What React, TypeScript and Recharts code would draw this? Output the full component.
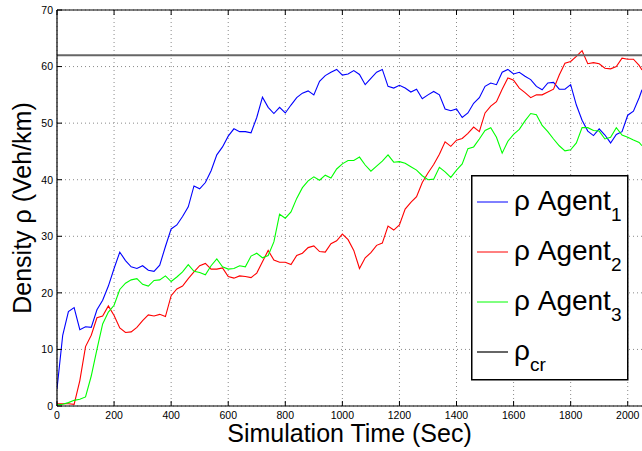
import { CartesianGrid, Legend, Line, LineChart, ReferenceLine, XAxis, YAxis } from "recharts";

// sample times (s)
const TIMES = [
  0, 20, 40, 60, 80, 100, 120, 140, 160, 180,
  200, 220, 240, 260, 280, 300, 320, 340, 360, 380,
  400, 420, 440, 460, 480, 500, 520, 540, 560, 580,
  600, 620, 640, 660, 680, 700, 720, 740, 760, 780,
  800, 820, 840, 860, 880, 900, 920, 940, 960, 980,
  1000, 1020, 1040, 1060, 1080, 1100, 1120, 1140, 1160, 1180,
  1200, 1220, 1240, 1260, 1280, 1300, 1320, 1340, 1360, 1380,
  1400, 1420, 1440, 1460, 1480, 1500, 1520, 1540, 1560, 1580,
  1600, 1620, 1640, 1660, 1680, 1700, 1720, 1740, 1760, 1780,
  1800, 1820, 1840, 1860, 1880, 1900, 1920, 1940, 1960, 1980,
  2000, 2020, 2040, 2050,
];

const AGENT_1 = [
  3, 12.5, 16.7, 17.4, 13.5, 14.0, 13.9, 17.0, 18.7, 21.2,
  24.3, 27.2, 25.7, 24.6, 24.3, 24.8, 24.0, 23.8, 24.9, 28.2,
  31.3, 32.0, 33.5, 35.2, 38.9, 38.4, 39.5, 41.6, 44.4, 45.8,
  47.7, 49.0, 48.5, 48.5, 48.3, 51.0, 54.6, 52.8, 51.7, 52.8,
  51.8, 53.2, 54.5, 55.3, 55.7, 55.0, 57.4, 58.4, 59.0, 59.5,
  58.5, 58.7, 59.3, 58.6, 56.8, 57.9, 59.0, 59.5, 56.5, 56.2,
  56.7, 56.2, 55.5, 56.0, 54.3, 55.0, 55.6, 55.0, 52.5, 52.2,
  52.5, 51.0, 51.8, 53.5, 54.5, 56.5, 57.1, 56.8, 59.0, 59.5,
  58.7, 59.0, 58.3, 57.7, 56.5, 55.9, 57.1, 57.2, 56.0, 56.0,
  56.8, 53.2, 50.5, 48.6, 47.8, 49.0, 47.9, 46.5, 48.0, 48.5,
  51.4, 52.1, 54.5, 55.9,
];

const AGENT_2 = [
  0.4, 0.4, 0.4, 0.3, 4.5, 10.5, 12.5, 15.6, 15.9, 17.7,
  16.0, 13.8, 13.0, 13.1, 13.9, 15.1, 16.1, 15.9, 16.2, 15.8,
  19.5, 20.7, 21.2, 22.5, 23.7, 24.8, 25.2, 24.2, 24.2, 24.4,
  22.9, 22.6, 23.0, 22.9, 22.7, 23.5, 25.5, 27.5, 25.8, 25.4,
  25.4, 25.0, 26.6, 27.0, 28.0, 28.3, 27.3, 27.2, 28.7, 29.2,
  30.4, 29.4, 27.5, 24.3, 26.2, 27.1, 28.4, 28.8, 31.8, 31.1,
  32.0, 34.8, 36.0, 37.0, 39.5, 41.2, 42.7, 44.5, 46.7, 45.9,
  47.0, 47.3, 48.2, 49.3, 48.5, 51.8, 53.0, 53.8, 56.0, 58.0,
  57.6, 56.2, 55.4, 54.5, 55.0, 55.0, 55.5, 56.0, 58.5, 60.6,
  60.9, 61.8, 62.8, 60.5, 60.7, 60.5, 59.7, 59.6, 60.0, 61.5,
  61.3, 61.3, 60.2, 59.4,
];

const AGENT_3 = [
  0.2, 0.3, 0.6, 1.0, 1.2, 1.6, 5.3, 10.0, 14.5, 16.6,
  17.8, 20.6, 21.7, 22.3, 22.5, 21.5, 21.2, 22.2, 22.3, 23.0,
  22.0, 22.8, 23.7, 25.0, 23.8, 23.6, 23.2, 24.8, 26.0, 24.6,
  24.2, 24.3, 24.8, 24.6, 26.5, 27.0, 26.2, 26.6, 29.0, 33.9,
  33.2, 34.3, 36.7, 38.6, 39.8, 40.5, 39.9, 40.8, 40.3, 41.9,
  42.8, 43.4, 43.4, 44.0, 42.6, 41.5, 42.4, 43.3, 44.4, 43.1,
  43.2, 42.9, 42.3, 41.7, 40.7, 40.0, 40.1, 42.2, 41.4, 40.4,
  41.7, 42.8, 45.5, 45.8, 47.2, 48.7, 49.2, 47.5, 44.7, 46.8,
  48.0, 48.9, 50.4, 51.7, 51.5, 49.6, 48.5, 47.2, 46.0, 45.1,
  45.3, 46.5, 49.2, 49.2, 48.7, 48.6, 47.2, 47.5, 49.2, 47.9,
  47.5, 47.0, 46.6, 46.0,
];

const RHO_CR = 62;
const X_TICKS = [0, 200, 400, 600, 800, 1000, 1200, 1400, 1600, 1800, 2000];
const Y_TICKS = [0, 10, 20, 30, 40, 50, 60, 70];

const data = TIMES.map((t, i) => ({ t, a1: AGENT_1[i], a2: AGENT_2[i], a3: AGENT_3[i] }));

const FONT = "'Liberation Sans', Arial, Helvetica, sans-serif";
const PLOT_LEFT = 57;
const PLOT_TOP = 10;
const PLOT_BOTTOM = 406;

const legendItems = [
  { color: "#0000ff", sub: "1", label: "\u03c1 Agent", width: 1 },
  { color: "#ff0000", sub: "2", label: "\u03c1 Agent", width: 1 },
  { color: "#00ff00", sub: "3", label: "\u03c1 Agent", width: 1 },
  { color: "#666666", sub: "cr", label: "\u03c1", width: 2 },
];

function XTick({ x, payload }: any) {
  return (
    <g>
      <line x1={x} x2={x} y1={PLOT_BOTTOM} y2={PLOT_BOTTOM - 5} stroke="#000" />
      <line x1={x} x2={x} y1={PLOT_TOP} y2={PLOT_TOP + 5} stroke="#000" />
      <text x={x} y={418.5} textAnchor="middle" fontSize={10.5} fontFamily={FONT} fill="#000">
        {payload.value}
      </text>
    </g>
  );
}

function YTick({ y, payload }: any) {
  return (
    <g>
      <line x1={PLOT_LEFT} x2={PLOT_LEFT + 5} y1={y} y2={y} stroke="#000" />
      <text x={53} y={y + 3.8} textAnchor="end" fontSize={10.5} fontFamily={FONT} fill="#000">
        {payload.value}
      </text>
    </g>
  );
}

function RhoLegend() {
  return (
    <svg width={158} height={206} style={{ display: "block" }}>
      <rect x={0.75} y={0.75} width={156} height={204} fill="#fff" stroke="#000" strokeWidth={1.5} />
      {legendItems.map((item, i) => {
        const cy = 27 + i * 50;
        return (
          <g key={item.sub}>
            <line x1={6} x2={37} y1={cy} y2={cy} stroke={item.color} strokeWidth={item.width} />
            <text x={43} y={cy + 8} fontSize={28} fontFamily={FONT} fill="#000">
              {item.label}
              <tspan dy={11} fontSize={19}>
                {item.sub}
              </tspan>
            </text>
          </g>
        );
      })}
    </svg>
  );
}

function XTitle() {
  return (
    <text x={349.5} y={442} textAnchor="middle" fontSize={25} fontFamily={FONT} fill="#000">
      Simulation Time (Sec)
    </text>
  );
}

function YTitle() {
  return (
    <text
      x={31}
      y={208}
      textAnchor="middle"
      fontSize={25}
      fontFamily={FONT}
      fill="#000"
      transform="rotate(-90, 31, 208)"
    >
      Density {"\u03c1"} (Veh/km)
    </text>
  );
}

export default function App() {
  return (
    <div style={{ position: "absolute", left: 0, top: 0, width: 642, height: 451, background: "#fff" }}>
      <LineChart width={642} height={451} data={data} margin={{ top: 10, right: 0, left: 0, bottom: 0 }}>
        <CartesianGrid stroke="#8a8a8a" strokeDasharray="1 3" verticalValues={X_TICKS} horizontalValues={Y_TICKS} />
        <XAxis
          type="number"
          dataKey="t"
          domain={[0, 2050]}
          ticks={X_TICKS}
          allowDataOverflow
          height={45}
          tickSize={0}
          tickLine={false}
          axisLine={{ stroke: "#000", strokeWidth: 1.2 }}
          tick={<XTick />}
          interval={0}
          label={<XTitle />}
        />
        <YAxis
          type="number"
          domain={[0, 70]}
          ticks={Y_TICKS}
          width={57}
          tickSize={0}
          tickLine={false}
          axisLine={{ stroke: "#000", strokeWidth: 1.2 }}
          tick={<YTick />}
          interval={0}
          label={<YTitle />}
        />
        <ReferenceLine y={70} stroke="#000" strokeWidth={1.2} />
        <Line type="linear" dataKey="a1" stroke="#0000ff" strokeWidth={1.1} dot={false} isAnimationActive={false} />
        <Line type="linear" dataKey="a2" stroke="#ff0000" strokeWidth={1.1} dot={false} isAnimationActive={false} />
        <Line type="linear" dataKey="a3" stroke="#00ff00" strokeWidth={1.1} dot={false} isAnimationActive={false} />
        <ReferenceLine y={RHO_CR} stroke="#666666" strokeWidth={2} />
        <Legend
          layout="horizontal"
          verticalAlign="middle"
          align="center"
          content={() => <RhoLegend />}
          wrapperStyle={{ left: 471, top: 175, width: 158, height: 206 }}
        />
      </LineChart>
    </div>
  );
}
